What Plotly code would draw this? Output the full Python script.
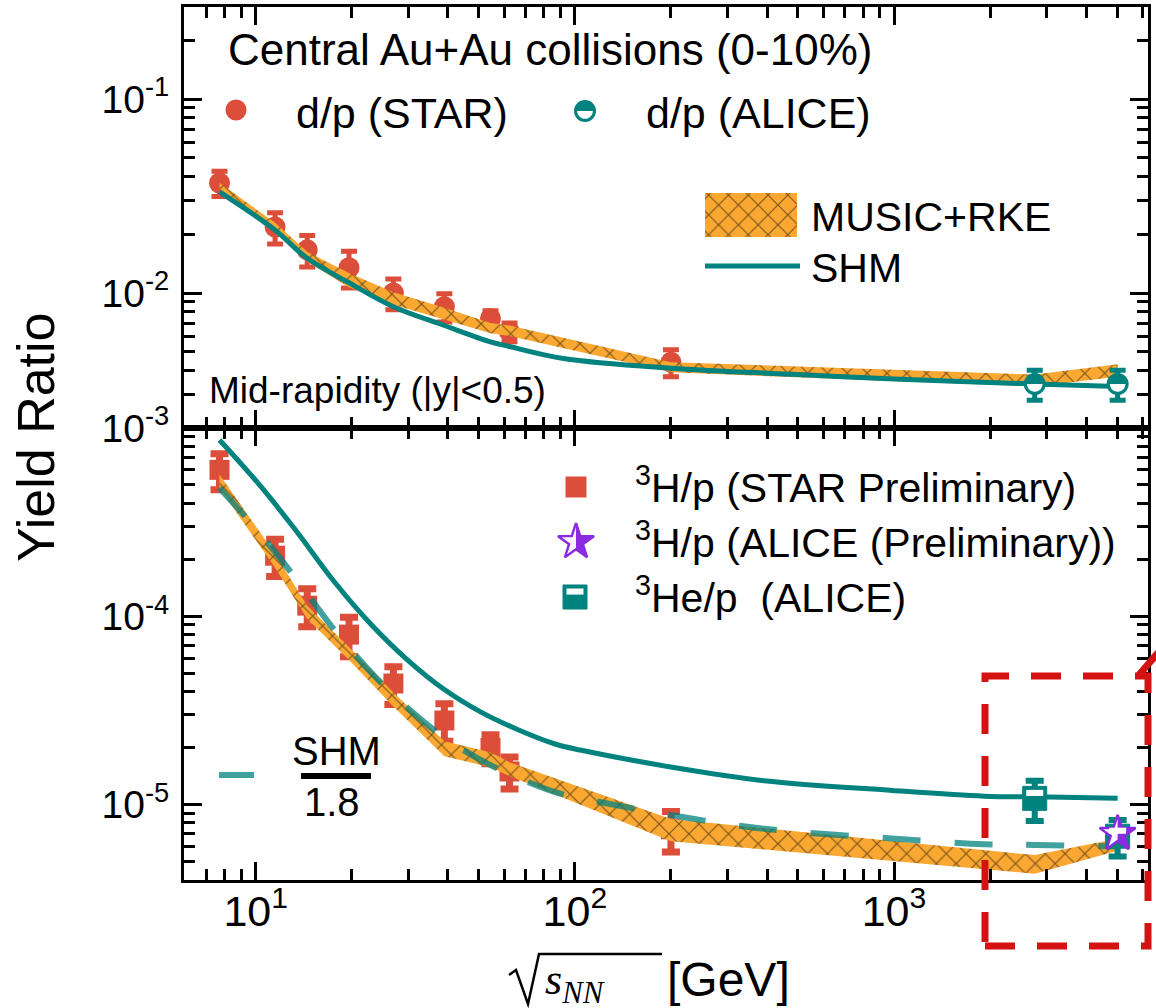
import math
import plotly.graph_objects as go

# ---------------- data ----------------
# collision energies sqrt(s_NN) in GeV
star_energy = [7.7, 11.5, 14.5, 19.6, 27, 39, 54.4, 62.4, 200]
alice_energy = [2760, 5020]
model_energy = [7.7, 11.5, 14.5, 19.6, 27, 39, 54.4, 62.4, 200, 2760, 5020]

# d/p yield ratio
dp_star = [0.0369, 0.0219, 0.0167, 0.0135, 0.0100, 0.0085, 0.0074, 0.0063, 0.0044]
dp_star_err = [0.0055, 0.0040, 0.0031, 0.0029, 0.0018, 0.0014, 0.0007, 0.0007, 0.0007]
dp_alice = [0.0034, 0.0034]
dp_alice_err = [0.0006, 0.0006]

music_dp_low = [0.0345, 0.0204, 0.0145, 0.0107, 0.0087, 0.0073, 0.0062, 0.0060, 0.0039, 0.0033, 0.0037]
music_dp_high = [0.0370, 0.0230, 0.0163, 0.0127, 0.0101, 0.0084, 0.0070, 0.0068, 0.0044, 0.0038, 0.0043]

shm_dp_energy = [7.7, 11.5, 14.5, 19.6, 27, 39, 54.4, 62.4, 92, 200, 500, 1000, 2760, 5020]
shm_dp = [0.0332, 0.0211, 0.0151, 0.0113, 0.0085, 0.0068, 0.0056, 0.0053, 0.0046, 0.0041,
          0.0038, 0.0036, 0.0034, 0.0033]

# A=3 over proton yield ratios
h3_star = [6.0e-4, 2.1e-4, 1.14e-4, 8.0e-5, 4.4e-5, 2.8e-5, 2.0e-5, 1.5e-5, 7.4e-6]
h3_star_err = [1.3e-4, 4.7e-5, 2.6e-5, 1.9e-5, 1.0e-5, 6.3e-6, 3.5e-6, 2.9e-6, 1.8e-6]
h3_alice_energy = [5020]
h3_alice = [7.0e-6]
he3_alice = [1.08e-5, 6.8e-6]
he3_alice_err = [2.6e-6, 1.5e-6]

music_a3_low = [4.8e-4, 1.81e-4, 9.7e-5, 5.86e-5, 3.32e-5, 1.81e-5, 1.58e-5, 1.42e-5, 6.4e-6, 4.3e-6, 5.7e-6]
music_a3_high = [5.66e-4, 2.15e-4, 1.14e-4, 6.87e-5, 3.94e-5, 2.17e-5, 1.90e-5, 1.68e-5, 8.4e-6, 5.4e-6, 6.6e-6]

shm_a3_energy = [7.7, 10.2, 13.4, 17.5, 22.8, 29.8, 38.9, 50.8, 66.4, 86.7, 104, 202, 392, 986, 1918, 2760, 5020]
shm_a3 = [8.65e-4, 5.07e-4, 2.84e-4, 1.55e-4, 9.2e-5, 5.9e-5, 4.1e-5, 3.1e-5, 2.5e-5, 2.1e-5,
          1.95e-5, 1.58e-5, 1.34e-5, 1.19e-5, 1.11e-5, 1.10e-5, 1.08e-5]
shm_scale = 1.8
shm_a3_scaled = [v / shm_scale for v in shm_a3]

x_tick_vals = [10, 100, 1000]
x_tick_text = ["10<sup>1</sup>", "10<sup>2</sup>", "10<sup>3</sup>"]
y_top_tick_vals = [0.01, 0.1]
y_top_tick_text = ["10<sup>-2</sup>", "10<sup>-1</sup>"]
y_bot_tick_vals = [1e-5, 1e-4, 1e-3]
y_bot_tick_text = ["10<sup>-5</sup>", "10<sup>-4</sup>", "10<sup>-3</sup>"]

# axis ranges (log10 units)
X_RANGE = [math.log10(5.96), math.log10(6250)]
Y_TOP_RANGE = [math.log10(0.002015), math.log10(0.298)]
Y_BOT_RANGE = [math.log10(3.98e-6), math.log10(1.001e-3)]

# ---------------- style ----------------
RED = '#DC4E3A'
TEAL = '#00827F'
TEAL_DASH = 'rgba(0,130,127,0.75)'
ORANGE = '#FAA832'
PURPLE = '#8A2BE2'
CALLOUT = '#D51212'
FONT = 'Liberation Sans, Arial, sans-serif'

W, H = 1156, 1008
L, R, T, B = 184, 1148, 7, 880   # plot area in page pixels
SPLIT = 428                      # boundary between the two panels
split_frac = (B - SPLIT) / (B - T)


def px(x):
    return (x - L) / (R - L)


def py(y):
    return (B - y) / (B - T)


def page_x(e):
    return L + (math.log10(e) - X_RANGE[0]) / (X_RANGE[1] - X_RANGE[0]) * (R - L)


def page_y(v, rng, top, bottom):
    return bottom - (math.log10(v) - rng[0]) / (rng[1] - rng[0]) * (bottom - top)


hatch = dict(shape='x', bgcolor=ORANGE, fgcolor='black', size=14, solidity=0.16)

fig = go.Figure()
shapes = []
annotations = []


def star_half_path(size, side=1):
    rs = size / 2 * 1.4
    x1, x2, x3, x4 = rs * 0.225, rs * 0.951, rs * 0.363, rs * 0.588
    y1, y3, y4, y5 = -rs * 0.309, rs * 0.118, rs * 0.809, rs * 0.382
    pts = [(0, -rs), (x1, y1), (x2, y1), (x3, y3), (x4, y4), (0, y5)]
    return 'M ' + ' L '.join(f'{side * a:.2f},{-b:.2f}' for a, b in pts) + ' Z'


def half_disk_path(r, upper=True):
    sgn = 1 if upper else -1
    pts = [(r * math.cos(math.pi * k / 30), sgn * r * math.sin(math.pi * k / 30)) for k in range(31)]
    return 'M ' + ' L '.join(f'{a:.2f},{b:.2f}' for a, b in pts) + ' Z'


def pixel_shape(xa, ya, **kw):
    # glyph decoration anchored on the page-pixel overlay axes
    d = dict(xref='x3', yref='y3', xsizemode='pixel', ysizemode='pixel',
             xanchor=xa, yanchor=ya, layer='above', line=dict(width=0))
    d.update(kw)
    return d


def half_circle_glyph(xa, ya, size):
    # white lower half inside a teal-filled circle
    shapes.append(pixel_shape(xa, ya, type='path',
                              path=half_disk_path(size / 2 - 2.2, upper=False),
                              fillcolor='white'))


def half_square_glyph(xa, ya, size):
    rs = size / 2
    shapes.append(pixel_shape(xa, ya, type='rect',
                              x0=-rs + 3.5, x1=rs - 3.5, y0=rs - 3.5, y1=rs * 0.2,
                              fillcolor='white'))


def half_star_glyph(xa, ya, size):
    shapes.append(pixel_shape(xa, ya, type='path', path=star_half_path(size * 0.8, side=-1),
                              fillcolor='white', opacity=0.95))


# ---------------- upper panel: d/p ----------------
fig.add_trace(go.Scatter(
    x=star_energy, y=dp_star, mode='markers', xaxis='x', yaxis='y',
    marker=dict(symbol='circle', size=21, color=RED),
    error_y=dict(type='data', array=dp_star_err, thickness=5, width=8, color=RED)))

fig.add_trace(go.Scatter(
    x=model_energy + model_energy[::-1], y=music_dp_high + music_dp_low[::-1],
    fill='toself', fillcolor=ORANGE, fillpattern=hatch, mode='lines',
    line=dict(width=0), xaxis='x', yaxis='y'))

fig.add_trace(go.Scatter(
    x=shm_dp_energy, y=shm_dp, mode='lines', xaxis='x', yaxis='y',
    line=dict(color=TEAL, width=5, shape='spline')))

fig.add_trace(go.Scatter(
    x=alice_energy, y=dp_alice, mode='markers', xaxis='x', yaxis='y',
    marker=dict(symbol='circle', size=20, color=TEAL, line=dict(color=TEAL, width=2)),
    error_y=dict(type='data', array=dp_alice_err, thickness=5, width=8, color=TEAL)))

# ---------------- lower panel: A=3 / p ----------------
fig.add_trace(go.Scatter(
    x=star_energy, y=h3_star, mode='markers', xaxis='x2', yaxis='y2',
    marker=dict(symbol='square', size=20, color=RED),
    error_y=dict(type='data', array=h3_star_err, thickness=7, width=9, color=RED)))

fig.add_trace(go.Scatter(
    x=model_energy + model_energy[::-1], y=music_a3_high + music_a3_low[::-1],
    fill='toself', fillcolor=ORANGE, fillpattern=hatch, mode='lines',
    line=dict(width=0), xaxis='x2', yaxis='y2'))

fig.add_trace(go.Scatter(
    x=shm_a3_energy, y=shm_a3, mode='lines', xaxis='x2', yaxis='y2',
    line=dict(color=TEAL, width=5, shape='spline')))

fig.add_trace(go.Scatter(
    x=shm_a3_energy, y=shm_a3_scaled, mode='lines', xaxis='x2', yaxis='y2',
    line=dict(color=TEAL_DASH, width=6, shape='spline', dash='38px,34px')))

fig.add_trace(go.Scatter(
    x=alice_energy, y=he3_alice, mode='markers', xaxis='x2', yaxis='y2',
    marker=dict(symbol='square', size=24, color=TEAL, line=dict(color=TEAL, width=1)),
    error_y=dict(type='data', array=he3_alice_err, thickness=6, width=9, color=TEAL)))

fig.add_trace(go.Scatter(
    x=h3_alice_energy, y=h3_alice, mode='markers', xaxis='x2', yaxis='y2',
    marker=dict(symbol='star', size=27, color=PURPLE, line=dict(color=PURPLE, width=2.5))))

# half-filled symbol decorations on the ALICE points
for e, v in zip(alice_energy, dp_alice):
    half_circle_glyph(page_x(e), page_y(v, Y_TOP_RANGE, T, SPLIT), 20)
for e, v in zip(alice_energy, he3_alice):
    half_square_glyph(page_x(e), page_y(v, Y_BOT_RANGE, SPLIT, B), 24)
for e, v in zip(h3_alice_energy, h3_alice):
    half_star_glyph(page_x(e), page_y(v, Y_BOT_RANGE, SPLIT, B), 27)

# ---------------- legend glyphs (page-pixel overlay axes) ----------------
fig.add_trace(go.Scatter(x=[236], y=[110], mode='markers', xaxis='x3', yaxis='y3',
                         marker=dict(symbol='circle', size=21, color=RED)))
fig.add_trace(go.Scatter(x=[585], y=[111], mode='markers', xaxis='x3', yaxis='y3',
                         marker=dict(symbol='circle', size=20, color=TEAL,
                                     line=dict(color=TEAL, width=2))))
half_circle_glyph(585, 111, 20)
fig.add_trace(go.Scatter(x=[705, 797, 797, 705, 705], y=[193, 193, 237, 237, 193],
                         fill='toself', fillcolor=ORANGE, fillpattern=hatch, mode='lines',
                         line=dict(width=0), xaxis='x3', yaxis='y3'))
fig.add_trace(go.Scatter(x=[705, 800], y=[266, 266], mode='lines', xaxis='x3', yaxis='y3',
                         line=dict(color=TEAL, width=5)))
fig.add_trace(go.Scatter(x=[576], y=[487], mode='markers', xaxis='x3', yaxis='y3',
                         marker=dict(symbol='square', size=21, color=RED)))
fig.add_trace(go.Scatter(x=[576], y=[542], mode='markers', xaxis='x3', yaxis='y3',
                         marker=dict(symbol='star', size=27, color=PURPLE,
                                     line=dict(color=PURPLE, width=2.5))))
half_star_glyph(576, 542, 27)
fig.add_trace(go.Scatter(x=[575], y=[597], mode='markers', xaxis='x3', yaxis='y3',
                         marker=dict(symbol='square', size=24, color=TEAL,
                                     line=dict(color=TEAL, width=1))))
half_square_glyph(575, 597, 24)
fig.add_trace(go.Scatter(x=[219, 254], y=[775, 775], mode='lines', xaxis='x3', yaxis='y3',
                         line=dict(color=TEAL_DASH, width=6)))


# ---------------- text ----------------
def text(s, x, y, size, xanchor='left', family=FONT, angle=0):
    annotations.append(dict(text=s, x=px(x), y=py(y), xref='paper', yref='paper',
                            xanchor=xanchor, yanchor='middle', showarrow=False,
                            textangle=angle, font=dict(family=family, size=size, color='black')))


text('Central Au+Au collisions (0-10%)', 226, 49, 44)
text('d/p (STAR)', 294, 113, 43)
text('d/p (ALICE)', 644, 113, 43)
text('MUSIC+RKE', 809, 217, 41)
text('SHM', 809, 268, 41)
text('Mid-rapidity (|y|&lt;0.5)', 207, 390, 37)
text('<sup>3</sup>H/p (STAR Preliminary)', 633, 485, 41)
text('<sup>3</sup>H/p (ALICE (Preliminary))', 633, 540, 41)
text('<sup>3</sup>He/p \u00a0(ALICE)', 633, 595, 41)
text('SHM', 336, 751, 40, xanchor='center')
text('1.8', 332, 802, 40, xanchor='center')
text('Yield Ratio', 36, 437, 52, xanchor='center', angle=-90)
text('<i>s</i><sub><i>NN</i></sub>', 543, 982, 44, family='Liberation Serif, DejaVu Serif, serif')
text('[GeV]', 665, 979, 48)

# fraction bar of SHM / 1.8
shapes.append(dict(type='line', xref='paper', yref='paper', x0=px(301), x1=px(371),
                   y0=py(776), y1=py(776), line=dict(color='black', width=6)))
# radical sign over s_NN
rad = [(509, 975), (516, 970), (528, 1004), (539, 954), (662, 954)]
shapes.append(dict(type='path', xref='paper', yref='paper',
                   path='M ' + ' L '.join(f'{px(a):.5f},{py(b):.5f}' for a, b in rad),
                   line=dict(color='black', width=2.5)))
# dashed call-out frame around the LHC energies
shapes.append(dict(type='rect', xref='paper', yref='paper', x0=px(985), x1=px(1148),
                   y0=py(946), y1=py(676), layer='above',
                   line=dict(color=CALLOUT, width=7, dash='30px,22px')))
shapes.append(dict(type='line', xref='paper', yref='paper', x0=px(1138), x1=px(1176),
                   y0=py(676), y1=py(632), layer='above',
                   line=dict(color=CALLOUT, width=7)))

# ---------------- axes ----------------
minor_x = [m * 10 ** e for e in range(0, 4) for m in range(2, 10)]
minor_y = [m * 10.0 ** e for e in range(-6, 0) for m in range(2, 10)]

common = dict(type='log', showline=True, linewidth=3, linecolor='black', mirror='allticks',
              ticks='inside', ticklen=18, tickwidth=3, tickcolor='black',
              showgrid=False, zeroline=False, tickmode='array', automargin=False,
              tickfont=dict(family=FONT, size=39, color='black'))

xa_common = dict(common, range=X_RANGE, tickvals=x_tick_vals, ticktext=x_tick_text,
                 minor=dict(tickmode='array', tickvals=minor_x, ticks='inside', ticklen=11,
                            tickwidth=3, tickcolor='black', showgrid=False))
ya_minor = dict(tickmode='array', tickvals=minor_y, ticks='inside', ticklen=11,
                tickwidth=3, tickcolor='black', showgrid=False)
hidden = dict(visible=False, fixedrange=True, automargin=False)

fig.update_layout(
    width=W, height=H,
    margin=dict(l=L, r=W - R, t=T, b=H - B, autoexpand=False),
    paper_bgcolor='white', plot_bgcolor='rgba(0,0,0,0)',
    showlegend=False,
    xaxis=dict(xa_common, domain=[0, 1], anchor='y', showticklabels=False),
    yaxis=dict(common, domain=[split_frac, 1], anchor='x', range=Y_TOP_RANGE,
               tickvals=y_top_tick_vals, ticktext=y_top_tick_text,
               ticklabelstandoff=4, minor=ya_minor),
    xaxis2=dict(xa_common, domain=[0, 1], anchor='y2', matches='x',
                tickfont=dict(family=FONT, size=43, color='black'), ticklabelstandoff=-9),
    yaxis2=dict(common, domain=[0, split_frac], anchor='x2', range=Y_BOT_RANGE,
                tickvals=y_bot_tick_vals, ticktext=y_bot_tick_text,
                ticklabelstandoff=4, minor=ya_minor),
    xaxis3=dict(hidden, domain=[0, 1], anchor='y3', range=[L, R]),
    yaxis3=dict(hidden, domain=[0, 1], anchor='x3', range=[B, T]),
    shapes=shapes,
    annotations=annotations,
)

fig.write_html('out.html')
